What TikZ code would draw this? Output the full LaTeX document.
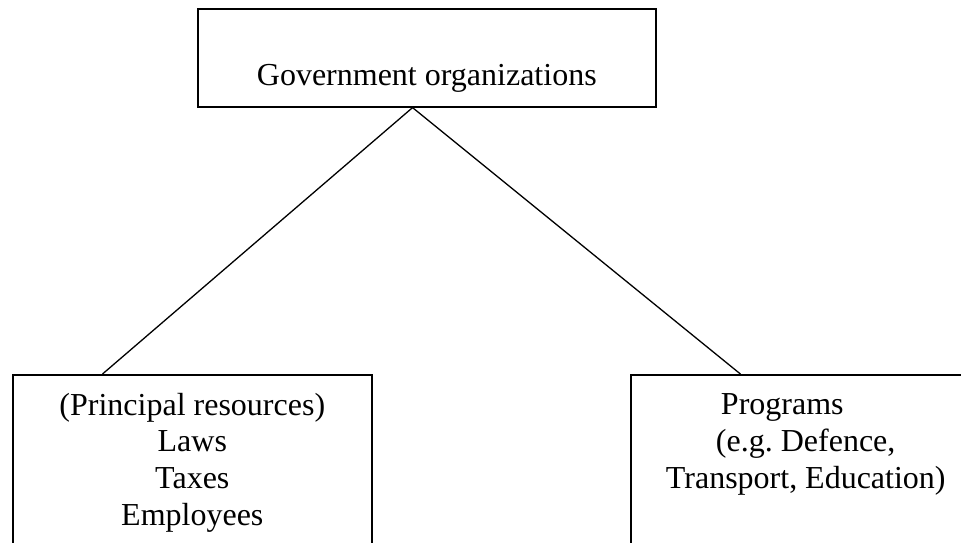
\documentclass[tikz,border=0pt]{standalone}
\usepackage{fontspec}
\setmainfont{Liberation Serif}
\usepackage{tikz}
\usetikzlibrary{calc}

\begin{document}
\begin{tikzpicture}[x=1pt,y=-1pt,
	box/.style={draw,line width=1.6pt,inner sep=0pt,align=center,font=\fontsize{32}{36.8}\selectfont},
	link/.style={line width=1.3pt}]
	\useasboundingbox (0,0) rectangle (961,542);
	\node[box,anchor=north west,minimum width=458,minimum height=98,text height=60,text depth=4] (gov) at (197,8) {Government organizations};
	\node[box,anchor=north west,minimum width=359,minimum height=180] (resources) at (12,374) {(Principal resources)\\Laws\\Taxes\\Employees\strut};
	\node[box,anchor=north west,minimum width=350,minimum height=180,align=left] (programs) at (630,374) {\hspace*{55pt}Programs\\\hspace*{50pt}(e.g.\ Defence,\\Transport, Education)\\\strut};
	\draw[link] ($(gov.south west)!0.469!(gov.south east)$) -- ($(resources.north west)!0.251!(resources.north east)$);
	\draw[link] ($(gov.south west)!0.469!(gov.south east)$) -- ($(programs.north west)!0.314!(programs.north east)$);
\end{tikzpicture}
\end{document}
